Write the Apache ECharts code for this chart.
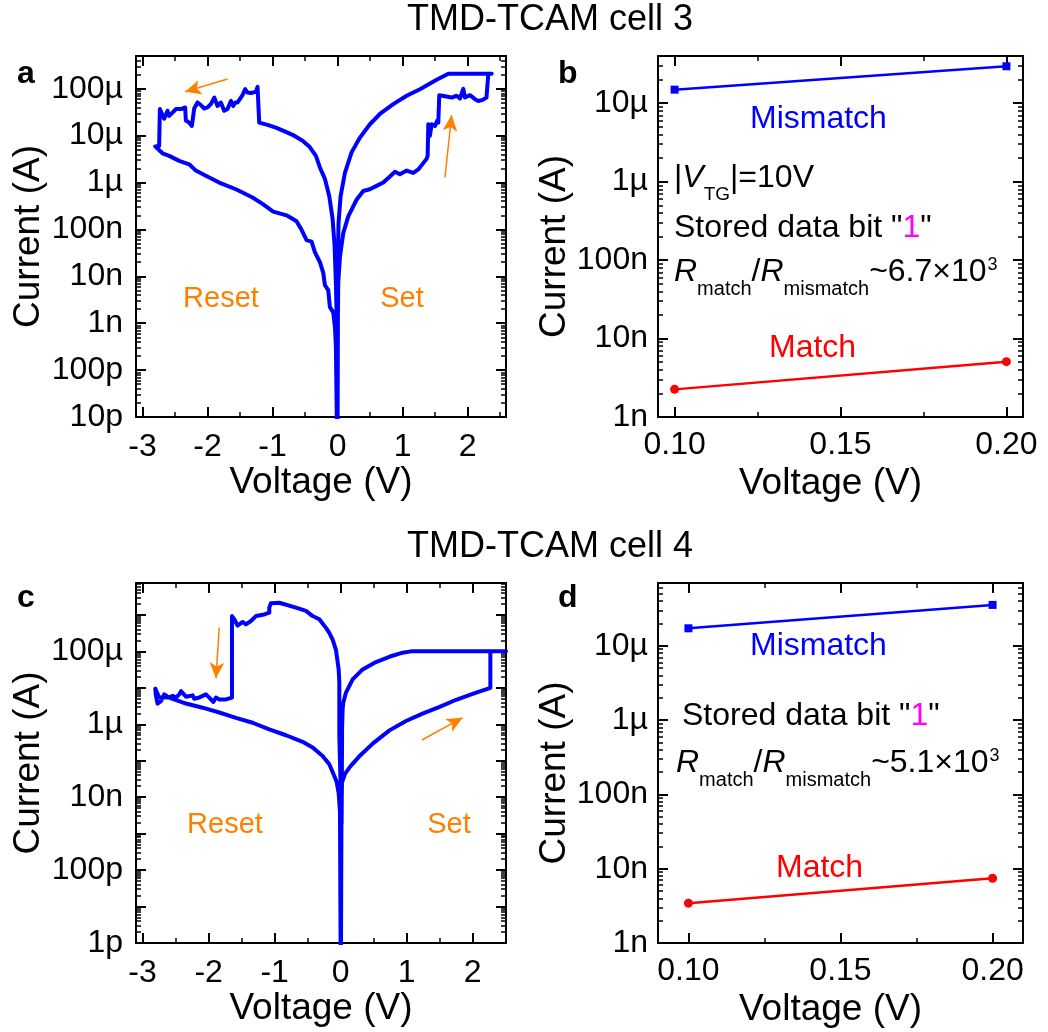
<!DOCTYPE html>
<html><head><meta charset="utf-8">
<script src="https://cdn.jsdelivr.net/npm/echarts@6/dist/echarts.min.js"></script>
<style>html,body{margin:0;padding:0;background:#fff}#c{width:1048px;height:1032px}</style>
</head><body><div id="c"></div>
<script>
// ---------------- data (volts, amps) ----------------
const aVolt = [0.000,0.005,0.010,0.036,0.087,0.164,0.292,0.395,0.497,0.600,0.703,0.805,0.882,0.959,1.062,1.164,1.241,1.308,1.369,1.385,1.395,1.420,1.446,1.497,1.533,1.549,1.564,1.651,1.754,1.831,1.882,1.933,1.959,2.036,2.113,2.164,2.231,2.290,2.318,2.370,1.703,
 1.523,1.267,1.062,0.856,0.651,0.497,0.344,0.215,0.113,0.046,0.015,0.003,0.000,
 -0.026,-0.046,-0.077,-0.128,-0.195,-0.272,-0.333,-0.436,-0.538,-0.667,-0.795,-0.949,-1.077,-1.205,-1.231,-1.256,-1.333,-1.385,-1.421,-1.462,-1.503,-1.538,-1.574,-1.605,-1.641,-1.692,-1.744,-1.795,-1.846,-1.897,-1.949,-2.000,-2.051,-2.103,-2.154,-2.205,-2.241,-2.282,-2.333,-2.344,-2.410,-2.487,-2.538,-2.590,-2.615,-2.667,-2.733,-2.744,-2.805,
 -2.692,-2.590,-2.436,-2.282,-2.180,-2.026,-1.821,-1.564,-1.308,-1.154,-0.990,-0.785,-0.631,-0.554,-0.477,-0.400,-0.349,-0.272,-0.221,-0.195,-0.144,-0.118,-0.067,-0.041,-0.026,-0.010];
const aCurrent = [5e-12,1.4e-9,7.1e-9,2.6e-8,8.3e-8,1.9e-7,4.3e-7,6.6e-7,7.2e-7,8.5e-7,1.0e-6,1.35e-6,1.7e-6,1.5e-6,1.8e-6,1.6e-6,1.9e-6,2.5e-6,3.2e-6,3.7e-6,1.75e-5,1.0e-5,1.75e-5,1.6e-5,2.1e-5,1.9e-5,7.3e-5,6.9e-5,6.5e-5,7.1e-5,6.2e-5,1.0e-4,6.5e-5,7.3e-5,6.0e-5,5.5e-5,5.8e-5,6.5e-5,2.1e-4,2.1e-4,2.1e-4,
 1.55e-4,9.8e-5,7.1e-5,4.7e-5,2.9e-5,1.75e-5,9.1e-6,4.4e-6,1.6e-6,5.1e-7,1.4e-7,2.0e-8,1.6e-10,
 7.2e-9,4.5e-8,1.7e-7,5.1e-7,1.2e-6,2.1e-6,3.7e-6,5.9e-6,7.8e-6,1.0e-5,1.2e-5,1.48e-5,1.7e-5,1.9e-5,1.1e-4,8.6e-5,8.1e-5,8.3e-5,9.8e-5,7.3e-5,6.0e-5,5.1e-5,5.1e-5,4.3e-5,5.5e-5,3.7e-5,3.4e-5,5.1e-5,4.3e-5,6.5e-5,4.7e-5,4.0e-5,3.8e-5,4.5e-5,5.1e-5,3.8e-5,1.6e-5,1.9e-5,2.1e-5,4.0e-5,3.7e-5,3.7e-5,3.1e-5,2.65e-5,3.4e-5,2.3e-5,3.7e-5,6.0e-6,5.9e-6,
 4.2e-6,3.7e-6,2.9e-6,2.45e-6,1.8e-6,1.4e-6,1.0e-6,7.2e-7,4.8e-7,3.5e-7,2.4e-7,2.0e-7,1.5e-7,9.8e-8,5.9e-8,5.5e-8,3.3e-8,2.0e-8,1.2e-8,6.5e-9,5.1e-9,2.2e-9,1.7e-9,8.3e-10,3.2e-10,5e-12];

const bVolt = [0.10, 0.20];
const bMismatch = [1.49e-5, 2.96e-5];
const bMatch = [2.25e-9, 5.08e-9];

const cVolt = [0.005,0.012,0.020,0.070,0.150,0.280,0.490,0.740,0.990,1.240,1.500,1.750,2.000,2.268,2.268,2.505,1.066,
 0.939,0.737,0.535,0.333,0.182,0.081,0.040,0.030,0.022,0.015,
 -0.020,-0.020,-0.030,-0.071,-0.121,-0.172,-0.222,-0.323,-0.424,-0.525,-0.677,-0.929,-1.056,-1.081,-1.081,-1.157,-1.283,-1.359,-1.434,-1.485,-1.561,-1.611,-1.646,-1.646,
 -1.737,-1.838,-1.889,-1.929,-1.990,-2.040,-2.090,-2.141,-2.217,-2.242,-2.343,-2.419,-2.444,-2.495,-2.545,-2.596,-2.672,-2.722,-2.773,-2.798,-2.808,
 -2.750,-2.596,-2.343,-2.091,-1.838,-1.586,-1.333,-1.081,-0.828,-0.576,-0.424,-0.273,-0.172,-0.096,-0.060,-0.030,-0.010,0.000];
const cCurrent = [5e-13,2.0e-9,2.5e-8,4.5e-8,7.1e-8,1.3e-7,3.0e-7,6.8e-7,1.23e-6,1.95e-6,3.0e-6,4.7e-6,6.8e-6,1.0e-5,1.0e-4,1.0e-4,1.0e-4,
 9.2e-5,7.1e-5,5.1e-5,3.2e-5,1.7e-5,7.4e-6,3.9e-6,2.6e-6,8.0e-7,1.8e-9,
 4.8e-7,1.4e-5,3.2e-5,1.1e-4,2.1e-4,3.2e-4,4.4e-4,7.6e-4,9.3e-4,1.29e-3,1.58e-3,2.16e-3,2.1e-3,1.58e-3,1.15e-3,1.03e-3,9.3e-4,6.8e-4,5.5e-4,6.4e-4,5.1e-4,7.6e-4,9.3e-4,5.4e-6,
 4.8e-6,4.8e-6,5.4e-6,4.1e-6,5.4e-6,6.6e-6,6.0e-6,5.4e-6,5.0e-6,6.2e-6,5.7e-6,8.1e-6,6.6e-6,5.4e-6,6.0e-6,5.4e-6,6.6e-6,4.3e-6,3.7e-6,6.0e-6,9.5e-6,
 5.5e-6,5.4e-6,3.7e-6,2.85e-6,2.1e-6,1.5e-6,1.1e-6,7.2e-7,5.0e-7,3.3e-7,2.3e-7,1.35e-7,8.0e-8,3.8e-8,2.6e-8,1.3e-8,4e-9,5e-13];

const dVolt = [0.10, 0.20];
const dMismatch = [1.72e-5, 3.55e-5];
const dMatch = [3.44e-9, 7.45e-9];

// tick labels
const acYExp = { a: [-11,-10,-9,-8,-7,-6,-5,-4], c: [-12,-10,-8,-6,-4] };
const aYLabels = ['10p','100p','1n','10n','100n','1µ','10µ','100µ'];
const cYLabels = ['1p','100p','10n','1µ','100µ'];
const bdYExp = [-9,-8,-7,-6,-5];
const bdYLabels = ['1n','10n','100n','1µ','10µ'];
const acXLabels = [-3,-2,-1,0,1,2];
const bdXLabels = [0.10,0.15,0.20];

// ---------------- helpers ----------------
const FONT = '"Liberation Sans", Arial, Helvetica, sans-serif';
const BLUE = '#0000ff', RED = '#ff0000', ORANGE = '#ff8000', MAGENTA = '#ff00ff';
const pairs = (V, I) => V.map((v, i) => [v, Math.log10(I[i])]);
function range(a, b) { const r = []; for (let n = a; n <= b; n++) r.push(n); return r; }
function logMinor(n0, n1, maxLog) {
  const r = [];
  for (let n = n0; n <= n1; n++) for (let k = 2; k <= 9; k++) { const v = n + Math.log10(k); if (v <= maxLog + 1e-9) r.push(v); }
  return r;
}
function labelMap(exps, labels) { const m = {}; exps.forEach((e, i) => m[e] = labels[i]); return v => m[Math.round(v)] || ''; }

const xAxes = [], yAxes = [];
const tickMaj = (vals) => ({ show: true, inside: true, length: 10, customValues: vals, lineStyle: { color: '#000', width: 2 } });
const tickMin = (vals) => ({ show: true, inside: true, length: 5, customValues: vals, lineStyle: { color: '#000', width: 1.5 } });
const axLine = { show: true, onZero: false, lineStyle: { color: '#000', width: 2 } };
const noLine = { show: false, onZero: false };
const lblStyle = { color: '#000', fontSize: 32, fontFamily: FONT };
const nameStyle = (pad) => ({ color: '#000', fontSize: 37, fontFamily: FONT, padding: pad });

function addAxes(g, p) {
  ['bottom', 'top'].forEach(pos => {
    const main = pos === 'bottom';
    xAxes.push(Object.assign({
      type: 'value', gridIndex: g, position: pos, min: p.xMin, max: p.xMax,
      axisLine: axLine, axisTick: tickMaj(p.xMaj), splitLine: { show: false },
      axisLabel: main ? Object.assign({ show: true, customValues: p.xLab, formatter: p.xFmt, margin: p.xMargin }, lblStyle) : { show: false }
    }, main ? { name: 'Voltage (V)', nameLocation: 'middle', nameGap: p.xNameGap, nameTextStyle: nameStyle(p.xNamePad) } : {}));
    xAxes.push({ type: 'value', gridIndex: g, position: pos, min: p.xMin, max: p.xMax, axisLine: noLine,
      axisTick: tickMin(p.xMinr), axisLabel: { show: false }, splitLine: { show: false } });
  });
  ['left', 'right'].forEach(pos => {
    const main = pos === 'left';
    yAxes.push(Object.assign({
      type: 'value', gridIndex: g, position: pos, min: p.yMin, max: p.yMax,
      axisLine: axLine, axisTick: tickMaj(p.yMaj), splitLine: { show: false },
      axisLabel: main ? Object.assign({ show: true, customValues: p.yLab, formatter: p.yFmt, margin: p.yMargin }, lblStyle) : { show: false }
    }, main ? { name: 'Current (A)', nameLocation: 'middle', nameGap: p.yNameGap, nameTextStyle: nameStyle(p.yNamePad) } : {}));
    yAxes.push({ type: 'value', gridIndex: g, position: pos, min: p.yMin, max: p.yMax, axisLine: noLine,
      axisTick: tickMin(p.yMinr), axisLabel: { show: false }, splitLine: { show: false } });
  });
}

const fmtInt = v => String(Math.round(v));
const fmt2 = v => v.toFixed(2);

// panel a
addAxes(0, { xMin: -3.1, xMax: 2.59, xMaj: acXLabels, xMinr: [-2.5,-1.5,-0.5,0.5,1.5,2.5], xLab: acXLabels, xFmt: fmtInt, xMargin: 14, xNameGap: 47, xNamePad: 0,
  yMin: -11, yMax: Math.log10(5e-4), yMaj: range(-11, -4), yMinr: logMinor(-11, -4, Math.log10(5e-4)), yLab: acYExp.a, yFmt: labelMap(acYExp.a, aYLabels), yMargin: 13, yNameGap: 89, yNamePad: 0 });
// panel b
addAxes(1, { xMin: 0.095, xMax: 0.205, xMaj: bdXLabels, xMinr: [0.125, 0.175], xLab: bdXLabels, xFmt: fmt2, xMargin: 12, xNameGap: 48, xNamePad: [0, 20, 0, 0],
  yMin: -9, yMax: Math.log10(4e-5), yMaj: range(-9, -5), yMinr: logMinor(-9, -5, Math.log10(4e-5)), yLab: bdYExp, yFmt: labelMap(bdYExp, bdYLabels), yMargin: 10, yNameGap: 84, yNamePad: [0, 20, 0, 0] });
// panel c
addAxes(2, { xMin: -3.1, xMax: 2.505, xMaj: acXLabels, xMinr: [-2.5,-1.5,-0.5,0.5,1.5,2.5], xLab: acXLabels, xFmt: fmtInt, xMargin: 14, xNameGap: 47, xNamePad: 0,
  yMin: -12, yMax: Math.log10(7.5e-3), yMaj: range(-12, -3), yMinr: logMinor(-12, -3, Math.log10(7.5e-3)), yLab: acYExp.c, yFmt: labelMap(acYExp.c, cYLabels), yMargin: 13, yNameGap: 89, yNamePad: 0 });
// panel d
addAxes(3, { xMin: 0.09, xMax: 0.21, xMaj: bdXLabels, xMinr: [0.125, 0.175], xLab: bdXLabels, xFmt: fmt2, xMargin: 12, xNameGap: 48, xNamePad: [0, 20, 0, 0],
  yMin: -9, yMax: Math.log10(7e-5), yMaj: range(-9, -5), yMinr: logMinor(-9, -5, Math.log10(7e-5)), yLab: bdYExp, yFmt: labelMap(bdYExp, bdYLabels), yMargin: 10, yNameGap: 84, yNamePad: [0, 20, 0, 0] });

// annotation arrows (in axis units: V, log10 A)
const arrowsA = [[[-1.692, -3.793], [-2.345, -4.064]], [[1.651, -5.893], [1.754, -4.561]]];
const arrowsC = [[[-1.839, -3.35], [-1.889, -4.741]], [[1.232, -6.431], [1.848, -5.819]]];
const mk = arr => ({ silent: true, animation: false, symbol: ['none', 'arrow'], symbolSize: [11, 16],
  label: { show: false }, lineStyle: { color: ORANGE, width: 1.5, type: 'solid' },
  data: arr.map(a => [{ coord: a[0] }, { coord: a[1] }]) });

const loopSeries = (g, data, arr) => ({ type: 'line', xAxisIndex: g * 4, yAxisIndex: g * 4, data, symbol: 'none', showSymbol: false,
  clip: true, lineStyle: { color: BLUE, width: 4, join: 'round' }, animation: false, markLine: mk(arr) });
const ptSeries = (g, V, I, color, sym, size) => ({ type: 'line', xAxisIndex: g * 4, yAxisIndex: g * 4, data: pairs(V, I),
  symbol: sym, symbolSize: size, showSymbol: true, lineStyle: { color, width: 2.5 }, itemStyle: { color }, animation: false });

// texts
const txt = (text, x, y, opt) => ({ type: 'text', style: Object.assign({ text, x, y, fill: '#000', font: '30px ' + FONT, align: 'left', verticalAlign: 'middle' }, opt || {}) });
const richBase = { n: { fontSize: 32, lineHeight: 32, fontFamily: FONT, verticalAlign: 'top', fill: '#000' },
  i: { fontSize: 32, lineHeight: 32, fontFamily: FONT, fontStyle: 'italic', verticalAlign: 'top', fill: '#000' },
  s: { fontSize: 20, lineHeight: 20, fontFamily: FONT, verticalAlign: 'top', padding: [23, 0, 0, 0], fill: '#000' },
  t: { fontSize: 19, lineHeight: 19, fontFamily: FONT, verticalAlign: 'top', padding: [23, 0, 0, 0], fill: '#000' },
  p: { fontSize: 18, lineHeight: 18, fontFamily: FONT, verticalAlign: 'top', padding: [0, 0, 0, 1], fill: '#000' },
  m: { fontSize: 32, lineHeight: 32, fontFamily: FONT, verticalAlign: 'top', fill: MAGENTA } };
const rich = (text, x, y) => ({ type: 'text', style: { text, x, y, rich: richBase, align: 'left', verticalAlign: 'top', fill: '#000' } });

const graphics = [
  txt('TMD-TCAM cell 3', 550, 20, { font: '36px ' + FONT, align: 'center' }),
  txt('TMD-TCAM cell 4', 550, 547, { font: '36px ' + FONT, align: 'center' }),
  txt('a', 17, 74, { font: 'bold 32px ' + FONT }),
  txt('b', 558, 74, { font: 'bold 32px ' + FONT }),
  txt('c', 17, 598, { font: 'bold 32px ' + FONT }),
  txt('d', 558, 598, { font: 'bold 32px ' + FONT }),
  txt('Reset', 221, 299, { font: '29px ' + FONT, fill: ORANGE, align: 'center' }),
  txt('Set', 402, 299, { font: '29px ' + FONT, fill: ORANGE, align: 'center' }),
  txt('Reset', 225, 825, { font: '29px ' + FONT, fill: ORANGE, align: 'center' }),
  txt('Set', 449, 825, { font: '29px ' + FONT, fill: ORANGE, align: 'center' }),
  txt('Mismatch', 750, 119, { font: '32px ' + FONT, fill: BLUE }),
  txt('Match', 769, 348, { font: '32px ' + FONT, fill: RED }),
  rich('{n||}{i|V}{t|TG}{n||=10V}', 674, 162),
  rich('{n|Stored data bit "}{m|1}{n|"}', 674, 212),
  rich('{i|R}{s|match}{n|/}{i|R}{s|mismatch}{n|~6.7×10}{p|3}', 674, 256),
  txt('Mismatch', 750, 646, { font: '32px ' + FONT, fill: BLUE }),
  txt('Match', 776, 868, { font: '32px ' + FONT, fill: RED }),
  rich('{n|Stored data bit "}{m|1}{n|"}', 682, 700),
  rich('{i|R}{s|match}{n|/}{i|R}{s|mismatch}{n|~5.1×10}{p|3}', 676, 747)
];

const option = {
  backgroundColor: '#fff',
  animation: false,
  textStyle: { fontFamily: FONT },
  grid: [
    { left: 136, top: 56, width: 370, height: 361, containLabel: false, outerBoundsMode: 'none' },
    { left: 658, top: 56, width: 365, height: 361, containLabel: false, outerBoundsMode: 'none' },
    { left: 136, top: 583, width: 370, height: 360, containLabel: false, outerBoundsMode: 'none' },
    { left: 658, top: 583, width: 365, height: 360, containLabel: false, outerBoundsMode: 'none' }
  ],
  xAxis: xAxes,
  yAxis: yAxes,
  series: [
    loopSeries(0, pairs(aVolt, aCurrent), arrowsA),
    ptSeries(1, bVolt, bMismatch, BLUE, 'rect', 8),
    ptSeries(1, bVolt, bMatch, RED, 'circle', 9),
    loopSeries(2, pairs(cVolt, cCurrent), arrowsC),
    ptSeries(3, dVolt, dMismatch, BLUE, 'rect', 8),
    ptSeries(3, dVolt, dMatch, RED, 'circle', 9)
  ],
  graphic: graphics
};
const chart = echarts.init(document.getElementById('c'), null, { renderer: 'canvas' });
chart.setOption(option);
</script></body></html>
